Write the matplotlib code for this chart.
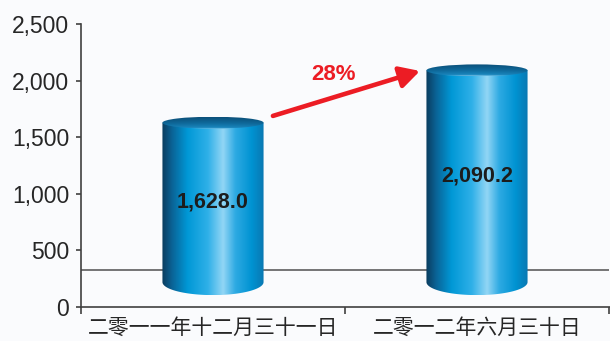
import numpy as np
import matplotlib
matplotlib.use('Agg')
import matplotlib.pyplot as plt
from matplotlib.colors import LinearSegmentedColormap
from matplotlib.patches import Ellipse, Polygon

plt.rcParams['font.family'] = ['Liberation Sans', 'DejaVu Sans']

# Data
categories = ['二零一一年十二月三十一日', '二零一二年六月三十日']
values = [1628.0, 2090.2]
y_ticks = [0, 500, 1000, 1500, 2000, 2500]

# Look of the 3D cylinders
floor_level = 220      # where the cylinder bottoms sit
floor_line = 331       # the back wall / floor edge line
cyl_width = 0.383
top_half_h = 53        # half height of top ellipse (value units)
bottom_half_h = 115    # half height of bottom ellipse (value units)

bg = '#fafbfd'
body_cmap = LinearSegmentedColormap.from_list('body', [
    (0.00, '#0b3c5e'), (0.10, '#0a6497'), (0.25, '#0098d6'),
    (0.45, '#2fb0e8'), (0.60, '#92d6f5'), (0.72, '#2eaae3'),
    (0.88, '#0093d2'), (1.00, '#0a78b2')])
top_cmap = LinearSegmentedColormap.from_list('top', [
    (0.00, '#0a4a72'), (0.55, '#0f6a9c'), (0.90, '#1a86bd'), (1.00, '#7cc6ea')])

fig = plt.figure(figsize=(6.1, 3.41), dpi=100, facecolor=bg)
ax = fig.add_axes([81 / 610, 34 / 341, 528 / 610, 283 / 341], facecolor=bg)
ax.set_xlim(-0.5, 1.5)
ax.set_ylim(0, 2500)

ax.axhline(floor_line, color='#505050', lw=1.1, zorder=1)

t = np.linspace(0, np.pi, 80)
for i, v in enumerate(values):
    x0, x1 = i - cyl_width / 2, i + cyl_width / 2
    a = cyl_width / 2

    # side of the cylinder with the rounded bottom
    bottom_x = i - a * np.cos(t)
    bottom_y = floor_level - bottom_half_h * np.sin(t)
    verts = [(x0, v)] + list(zip(bottom_x, bottom_y)) + [(x1, v)]
    body = Polygon(verts, closed=True, facecolor='none', edgecolor='none')
    ax.add_patch(body)
    grad = np.linspace(0, 1, 256).reshape(1, -1)
    im = ax.imshow(grad, cmap=body_cmap, aspect='auto', interpolation='bilinear',
                   extent=[x0, x1, floor_level - bottom_half_h, v], zorder=2)
    im.set_clip_path(body)

    # lid
    lid = Ellipse((i, v), cyl_width, 2 * top_half_h, facecolor='none', edgecolor='none')
    ax.add_patch(lid)
    gy = np.linspace(0, 1, 64).reshape(-1, 1)
    gx = np.linspace(-1, 1, 64).reshape(1, -1)
    lid_grad = np.clip(0.9 * gy + 0.1 * (1 - gx ** 2), 0, 1)
    im2 = ax.imshow(lid_grad, cmap=top_cmap, aspect='auto', interpolation='bilinear',
                    origin='upper', extent=[x0, x1, v - top_half_h, v + top_half_h], zorder=3)
    im2.set_clip_path(lid)

    ax.text(i, (floor_level + v) / 2, f'{v:,.1f}', ha='center', va='center',
            fontsize=15.5, fontweight='bold', color='#1c1c1c', zorder=4)

# growth arrow between the two periods
growth = values[1] / values[0] - 1
ax.annotate('', xy=(1 - 0.216, values[1] - 5), xytext=(0.227, values[0] + 60),
            arrowprops=dict(arrowstyle='-|>,head_length=1.2,head_width=0.65',
                            color='#ec1c24', lw=3.3, shrinkA=0, shrinkB=0), zorder=5)
ax.text(0.455, 2050, f'{growth:.0%}', ha='center', va='center', fontsize=16,
        fontweight='bold', color='#ec1c24')

for side in ['top', 'right']:
    ax.spines[side].set_visible(False)
for side in ['left', 'bottom']:
    ax.spines[side].set_color('#404040')
    ax.spines[side].set_linewidth(1.2)
ax.spines['bottom'].set_bounds(-0.5, 1.51)

ax.set_yticks(y_ticks)
ax.set_yticklabels([f'{y:,}' for y in y_ticks], fontsize=16.5, color='#262626')
ax.tick_params(axis='y', length=3.6, width=1.2, color='#404040', pad=5)

ax.set_xticks([-0.5, 0.5, 1.5])
ax.set_xticklabels([])
ax.tick_params(axis='x', which='major', length=5, width=1.2, color='#404040')
ax.set_xticks([0, 1], minor=True)
ax.set_xticklabels(categories, minor=True, fontsize=15, color='#262626',
                   family=['Noto Sans CJK SC', 'DejaVu Sans'])
ax.tick_params(axis='x', which='minor', length=0, pad=7)

fig.savefig('out.png', dpi=100, facecolor=bg)
